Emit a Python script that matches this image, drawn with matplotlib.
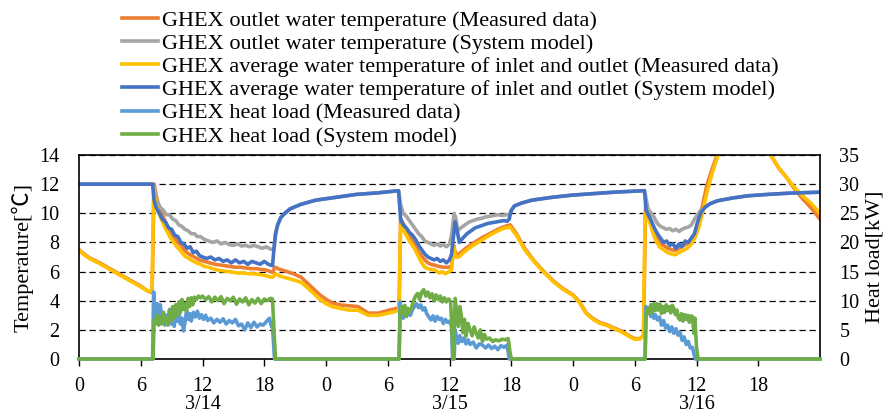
import matplotlib
matplotlib.use('Agg')
import matplotlib.pyplot as plt

# hours from 3/14 0:00
t_out_meas = [0, 0.5, 1, 2, 3, 4, 5, 6, 6.6, 7.1, 7.3, 7.5, 7.8, 8.1, 8.4, 8.7, 9.0, 9.3, 9.6, 9.9,
              10.2, 10.5, 10.8, 11.2, 11.7, 12.2, 12.7, 13.2, 13.7, 14.2, 14.7, 15.2, 15.7, 16.2, 16.7, 17.2, 17.7, 18.2, 18.6, 18.8,
              19.05, 19.5, 20.2, 21.0, 21.6, 22.2, 22.8, 23.4, 24.0, 24.6, 25.5, 26.3, 27.1, 28.1, 29.1, 30.1, 30.9, 31.1,
              31.25, 31.5, 31.8, 32.1, 32.4, 32.7, 33.0, 33.3, 33.6, 33.9, 34.2, 34.6, 35.0, 35.4, 35.9, 36.2, 36.4, 36.6, 36.9, 37.6,
              38.3, 39.1, 39.9, 40.7, 41.4, 41.9, 42.5, 43.3, 44.2, 45.1, 46.1, 47.0, 48.0, 48.6, 49.3, 50.0, 50.6, 51.3, 51.9, 52.6,
              53.2, 53.7, 54.0, 54.5, 54.85,
              55.05, 55.4, 55.7, 56.0, 56.4, 56.8, 57.2, 57.6, 57.9, 58.3, 58.7, 59.1, 59.5, 59.9, 60.3, 60.6, 61.0, 61.5, 62.0, 62.6,
              64.5, 66.5, 67.2, 68.0, 68.7, 69.5, 70.3, 71.1, 72.0]
out_meas = [7.5, 7.2, 6.95, 6.6, 6.2, 5.8, 5.4, 5.0, 4.7, 4.55, 12.0, 11.2, 10.4, 9.9, 9.4, 9.0, 8.6, 8.3, 8.0, 7.8,
            7.5, 7.3, 7.15, 7.0, 6.8, 6.7, 6.6, 6.5, 6.45, 6.4, 6.35, 6.3, 6.3, 6.25, 6.2, 6.2, 6.15, 6.1, 6.0, 5.95,
            6.3, 6.15, 6.0, 5.8, 5.6, 5.2, 4.8, 4.4, 4.1, 3.85, 3.7, 3.65, 3.6, 3.15, 3.15, 3.35, 3.48, 3.5,
            9.6, 9.3, 8.9, 8.5, 8.1, 7.7, 7.35, 7.05, 6.8, 6.6, 6.5, 6.43, 6.35, 6.3, 6.3, 6.35, 7.8, 7.2, 7.2, 7.6,
            7.95, 8.3, 8.6, 8.9, 9.1, 9.2, 8.6, 7.6, 6.75, 6.05, 5.35, 4.85, 4.4, 3.95, 3.15, 2.75, 2.5, 2.35, 2.15, 1.95,
            1.7, 1.5, 1.4, 1.4, 1.6,
            10.4, 9.8, 9.05, 8.5, 8.0, 7.8, 7.6, 7.5, 7.45, 7.6, 7.8, 7.9, 8.2, 8.7, 9.6, 10.6, 11.9, 13.0, 14.0, 15.2,
            17.0, 15.8, 14.0, 13.1, 12.5, 11.7, 11.0, 10.4, 9.6]

t_out_model = [0, 7.15, 7.3, 7.6, 7.9, 8.2, 8.5, 8.8, 9.1, 9.4, 9.7, 10.0, 10.3, 10.6, 10.9, 11.2, 11.5, 11.8, 12.2, 12.6,
               13.0, 13.4, 13.8, 14.2, 14.6, 15.0, 15.4, 15.8, 16.2, 16.6, 17.0, 17.4, 17.8, 18.2, 18.6, 18.85, 18.95, 19.1, 19.3, 19.6,
               20.0, 20.5, 21.5, 23, 25, 27, 29, 31.05,
               31.25, 31.5, 31.8, 32.1, 32.4, 32.7, 33.0, 33.3, 33.6, 33.9, 34.2, 34.5, 34.8, 35.1, 35.4, 35.7, 36.0, 36.2, 36.45, 36.6,
               36.8, 37.1, 37.5, 37.9, 38.3, 38.7, 39.1, 39.5, 39.9, 40.3, 40.7, 41.1, 41.5, 41.8, 42.0, 42.3, 43, 44, 46, 48,
               50, 52, 54.95,
               55.1, 55.3, 55.6, 55.9, 56.2, 56.5, 56.8, 57.1, 57.4, 57.7, 58.0, 58.3, 58.6, 58.9, 59.2, 59.5, 59.8, 60.1, 60.4, 60.8,
               61.3, 62, 63.5, 65, 67, 69, 72]
out_model = [12.0, 12.0, 11.6, 10.8, 10.4, 10.2, 9.9, 9.9, 9.6, 9.5, 9.2, 9.1, 8.9, 8.8, 8.6, 8.6, 8.4, 8.4, 8.2, 8.1,
             8.0, 8.1, 7.9, 8.0, 7.85, 7.8, 7.9, 7.75, 7.8, 7.7, 7.8, 7.7, 7.6, 7.7, 7.55, 7.5, 7.6, 8.6, 9.2, 9.7,
             10.0, 10.3, 10.6, 10.9, 11.1, 11.3, 11.4, 11.55,
             10.6, 10.0, 9.8, 9.5, 9.2, 8.9, 8.6, 8.4, 8.1, 8.0, 7.9, 7.8, 7.9, 7.75, 7.85, 7.7, 7.9, 8.5, 10.0, 9.7,
             8.8, 9.0, 9.2, 9.4, 9.5, 9.6, 9.65, 9.75, 9.8, 9.85, 9.9, 9.85, 9.9, 9.9, 10.2, 10.5, 10.7, 10.9, 11.1, 11.25,
             11.35, 11.45, 11.55,
             11.0, 10.3, 10.0, 9.7, 9.3, 9.1, 9.0, 8.9, 8.95, 8.8, 8.9, 8.75, 8.9, 9.0, 9.05, 9.2, 9.6, 9.9, 10.2, 10.4,
             10.65, 10.85, 11.05, 11.2, 11.3, 11.38, 11.45]

t_avg_meas = [0, 0.5, 1, 2, 3, 4, 5, 6, 6.6, 7.1, 7.25, 7.4, 7.7, 8.0, 8.3, 8.6, 8.9, 9.2, 9.5, 9.8,
              10.1, 10.4, 10.7, 11.0, 11.4, 11.8, 12.2, 12.6, 13.0, 13.5, 14.0, 14.5, 15.0, 15.5, 16.0, 16.5, 17.0, 17.5, 18.0, 18.5,
              18.8, 19.1, 19.5, 20.2, 21.0, 21.6, 22.2, 22.8, 23.4, 24.0, 24.6, 25.5, 26.3, 27.1, 28.1, 29.1, 30.1, 30.9, 31.1,
              31.25, 31.5, 31.8, 32.1, 32.4, 32.7, 33.0, 33.3, 33.6, 33.9, 34.2, 34.6, 35.0, 35.3, 35.6, 35.9, 36.2, 36.4, 36.6, 36.9,
              37.6, 38.3, 39.1, 39.9, 40.7, 41.4, 41.9, 42.5, 43.3, 44.2, 45.1, 46.1, 47.0, 48.0, 48.6, 49.3, 50.0, 50.6, 51.3, 51.9,
              52.6, 53.2, 53.7, 54.0, 54.5, 54.85,
              55.0, 55.4, 55.7, 56.0, 56.4, 56.8, 57.2, 57.6, 57.9, 58.3, 58.7, 59.1, 59.5, 59.9, 60.3, 60.6, 61.0, 61.5, 62.0, 62.6,
              64.5, 66.5, 67.2, 68.0, 68.7, 69.5, 70.3, 71.1, 72.0]
avg_meas = [7.45, 7.15, 6.9, 6.55, 6.15, 5.75, 5.35, 4.95, 4.7, 4.6, 11.7, 10.8, 10.1, 9.6, 9.1, 8.7, 8.3, 8.0, 7.7, 7.5,
            7.2, 7.0, 6.9, 6.75, 6.6, 6.5, 6.35, 6.3, 6.2, 6.1, 6.05, 6.0, 5.95, 5.9, 5.9, 5.85, 5.85, 5.8, 5.75, 5.65,
            5.6, 5.85, 5.7, 5.55, 5.4, 5.25, 4.9, 4.5, 4.1, 3.8, 3.6, 3.45, 3.35, 3.35, 3.0, 3.0, 3.15, 3.3, 3.4,
            9.2, 8.9, 8.5, 8.1, 7.8, 7.45, 7.0, 6.6, 6.3, 6.2, 6.15, 6.1, 5.9, 6.0, 5.85, 5.98, 6.1, 7.7, 7.0, 7.0,
            7.45, 7.8, 8.14, 8.5, 8.8, 9.0, 9.05, 8.5, 7.5, 6.7, 6.0, 5.3, 4.8, 4.36, 3.9, 3.1, 2.7, 2.45, 2.3, 2.1,
            1.9, 1.65, 1.45, 1.35, 1.38, 1.6,
            10.0, 9.5, 8.8, 8.2, 7.7, 7.5, 7.3, 7.2, 7.15, 7.3, 7.45, 7.6, 7.9, 8.4, 9.2, 10.1, 11.4, 12.7, 13.8, 15.0,
            17.0, 15.6, 14.0, 13.1, 12.5, 11.8, 11.2, 10.7, 10.0]

t_avg_model = [0, 7.15, 7.3, 7.5, 7.8, 8.1, 8.4, 8.7, 9.0, 9.3, 9.6, 9.9, 10.2, 10.5, 10.8, 11.1, 11.4, 11.7, 12.0, 12.4,
               12.8, 13.2, 13.6, 14.0, 14.4, 14.8, 15.2, 15.6, 16.0, 16.4, 16.8, 17.2, 17.6, 18.0, 18.4, 18.8, 18.95, 19.1, 19.3, 19.6,
               20.0, 20.5, 21.5, 23, 25, 27, 29, 31.05,
               31.25, 31.5, 31.8, 32.1, 32.4, 32.7, 33.0, 33.3, 33.6, 33.9, 34.2, 34.5, 34.8, 35.1, 35.4, 35.7, 36.0, 36.2, 36.4, 36.55,
               36.75, 36.95, 37.3, 37.7, 38.1, 38.5, 38.9, 39.3, 39.7, 40.1, 40.5, 40.9, 41.3, 41.6, 41.8, 42.0, 42.3, 43, 44, 46,
               48, 50, 52, 54.95,
               55.1, 55.3, 55.6, 55.9, 56.2, 56.5, 56.8, 57.1, 57.4, 57.7, 58.0, 58.3, 58.6, 58.9, 59.2, 59.5, 59.8, 60.1, 60.4, 60.8,
               61.3, 62, 63.5, 65, 67, 69, 72]
avg_model = [12.0, 12.0, 10.9, 10.4, 10.0, 9.6, 9.4, 9.0, 8.9, 8.5, 8.4, 8.0, 7.9, 7.6, 7.7, 7.3, 7.4, 7.1, 7.0, 6.9,
             7.0, 6.8, 6.9, 6.7, 6.8, 6.6, 6.8, 6.6, 6.7, 6.5, 6.7, 6.6, 6.5, 6.7, 6.5, 6.4, 7.6, 8.6, 9.2, 9.7,
             10.0, 10.3, 10.6, 10.9, 11.1, 11.3, 11.4, 11.55,
             9.6, 9.2, 9.0, 8.7, 8.5, 8.2, 7.8, 7.5, 7.2, 7.0, 6.9, 6.8, 6.9, 6.7, 6.8, 6.6, 6.8, 7.2, 8.5, 9.4,
             8.8, 8.0, 8.3, 8.6, 8.8, 9.0, 9.1, 9.2, 9.3, 9.35, 9.4, 9.45, 9.5, 9.45, 9.6, 10.2, 10.5, 10.7, 10.9, 11.1,
             11.25, 11.35, 11.45, 11.55,
             10.2, 9.9, 9.5, 9.0, 8.6, 8.3, 8.0, 8.1, 7.8, 7.9, 7.6, 7.9, 7.7, 8.1, 8.0, 8.3, 8.6, 9.4, 10.0, 10.4,
             10.65, 10.85, 11.05, 11.2, 11.3, 11.38, 11.45]

t_load_meas = [0, 7.15, 7.25, 7.35, 7.5, 7.6, 7.75, 7.9, 8.05, 8.2, 8.35, 8.5, 8.65, 8.8, 8.95, 9.1, 9.25, 9.4, 9.55, 9.7,
               9.85, 10.0, 10.15, 10.3, 10.45, 10.6, 10.75, 10.9, 11.1, 11.3, 11.5, 11.7, 11.9, 12.1, 12.3, 12.5, 12.8, 13.1, 13.4, 13.7,
               14.0, 14.3, 14.6, 14.9, 15.2, 15.5, 15.8, 16.1, 16.4, 16.7, 17.0, 17.3, 17.6, 17.9, 18.2, 18.5, 18.7, 18.8, 19.0,
               31.1, 31.2, 31.35, 31.5, 31.65, 31.8, 32.0, 32.2, 32.4, 32.6, 32.8, 33.0, 33.2, 33.4, 33.6, 33.8, 34.0, 34.2, 34.4, 34.6,
               34.8, 35.0, 35.2, 35.4, 35.6, 35.8, 36.0, 36.2, 36.3, 36.45, 36.55, 36.7, 36.85, 37.0, 37.2, 37.4, 37.6, 37.8, 38.0, 38.3,
               38.6, 38.9, 39.2, 39.5, 39.8, 40.1, 40.4, 40.7, 41.0, 41.3, 41.6, 41.8,
               55.0, 55.1, 55.25, 55.4, 55.55, 55.7, 55.85, 56.0, 56.2, 56.4, 56.6, 56.8, 57.0, 57.2, 57.4, 57.6, 57.8, 58.0, 58.2, 58.4,
               58.6, 58.8, 59.0, 59.2, 59.4, 59.6, 59.8, 59.9, 72]
load_meas = [0, 0, 11.5, 9.0, 6.5, 9.5, 7.0, 9.3, 6.5, 8.0, 5.8, 7.5, 6.2, 8.5, 6.0, 7.2, 5.6, 8.0, 6.5, 8.3,
             6.0, 7.0, 4.8, 6.3, 8.3, 6.8, 7.8, 6.5, 8.0, 7.2, 8.2, 7.0, 7.6, 6.8, 7.5, 6.6, 7.0, 6.2, 6.8, 6.3,
             6.9, 6.0, 6.6, 6.2, 6.8, 5.7, 6.0, 5.0, 6.2, 5.4, 6.3, 5.5, 6.0, 5.8, 6.4, 7.0, 5.6, 5.5, 0,
             0, 9.8, 8.0, 7.0, 8.2, 7.3, 7.8, 7.5, 8.5, 9.0, 9.5, 8.8, 9.3, 8.4, 8.8, 7.7, 7.2, 6.7, 7.4, 6.5,
             7.3, 6.8, 7.0, 6.1, 6.8, 6.3, 6.5, 5.5, 0, 0, 5.0, 3.5, 2.7, 4.0, 3.0, 3.6, 2.6, 3.3, 2.5, 2.9,
             1.9, 2.6, 2.4, 1.9, 2.4, 1.8, 2.2, 1.6, 2.3, 2.0, 2.4, 0,
             0, 9.0, 8.0, 8.8, 7.3, 8.0, 7.0, 7.6, 6.7, 7.2, 5.8, 6.6, 5.3, 5.8, 4.7, 5.5, 4.4, 5.2, 4.1, 4.6,
             3.2, 3.8, 2.5, 3.0, 1.9, 2.0, 0.5, 0, 0]

t_load_model = [0, 7.2, 7.3, 7.45, 7.6, 7.75, 7.9, 8.05, 8.2, 8.35, 8.5, 8.65, 8.8, 8.95, 9.1, 9.25, 9.4, 9.55, 9.7, 9.85,
                10.0, 10.15, 10.3, 10.45, 10.6, 10.75, 10.9, 11.05, 11.2, 11.4, 11.6, 11.8, 12.0, 12.3, 12.6, 12.9, 13.2, 13.5, 13.8, 14.1,
                14.4, 14.7, 15.0, 15.3, 15.6, 15.9, 16.2, 16.5, 16.8, 17.1, 17.4, 17.7, 18.0, 18.3, 18.6, 18.8, 19.0, 19.1,
                31.1, 31.2, 31.35, 31.5, 31.65, 31.8, 31.95, 32.1, 32.3, 32.5, 32.7, 32.9, 33.1, 33.3, 33.5, 33.7, 33.9, 34.1, 34.3, 34.5,
                34.7, 34.9, 35.1, 35.3, 35.5, 35.7, 35.9, 36.1, 36.25, 36.35, 36.45, 36.55, 36.7, 36.85, 37.0, 37.15, 37.3, 37.45, 37.6, 37.8,
                38.0, 38.2, 38.4, 38.6, 38.8, 39.0, 39.2, 39.4, 39.6, 39.9, 40.2, 40.5, 40.8, 41.1, 41.4, 41.7, 41.85, 42.0,
                55.0, 55.1, 55.25, 55.4, 55.55, 55.7, 55.85, 56.0, 56.15, 56.3, 56.45, 56.6, 56.75, 56.9, 57.05, 57.2, 57.35, 57.5, 57.65, 57.8,
                57.95, 58.1, 58.25, 58.4, 58.55, 58.7, 58.85, 59.0, 59.15, 59.3, 59.45, 59.6, 59.75, 59.85, 60.0, 60.15, 72]
load_model = [0, 0, 6.8, 6.0, 7.5, 5.8, 7.2, 6.0, 8.0, 6.3, 7.0, 5.8, 8.3, 6.5, 9.0, 7.0, 9.3, 7.5, 9.8, 8.0,
              10.2, 8.5, 9.5, 8.2, 10.4, 9.0, 10.5, 9.3, 10.6, 10.2, 10.8, 10.5, 10.8, 10.2, 10.7, 9.8, 10.6, 10.0, 10.7, 9.5,
              10.4, 10.0, 10.6, 9.4, 10.3, 9.8, 10.5, 9.3, 10.2, 9.6, 10.4, 9.5, 10.3, 10.0, 10.4, 10.3, 3.0, 0,
              0, 8.0, 9.0, 7.8, 9.2, 7.3, 8.7, 8.0, 8.7, 10.0, 10.8, 11.25, 10.2, 11.5, 11.9, 10.8, 11.5, 10.5, 11.2, 10.0,
              11.0, 10.2, 10.8, 9.8, 10.5, 9.8, 10.3, 9.9, 5.0, 0, 4.0, 10.4, 8.0, 5.6, 9.0, 7.5, 4.5, 6.8, 3.9, 6.1,
              5.0, 4.0, 5.5, 4.4, 3.6, 5.0, 3.0, 4.2, 3.4, 3.6, 3.0, 3.3, 3.1, 3.4, 3.3, 3.5, 1.5, 0,
              0, 7.3, 8.6, 7.8, 9.3, 8.0, 9.5, 8.3, 9.5, 8.4, 9.4, 7.8, 9.0, 8.0, 9.3, 8.3, 9.0, 7.9, 9.2, 8.7,
              7.6, 8.4, 7.0, 6.7, 7.8, 6.5, 7.6, 6.8, 7.5, 6.3, 7.4, 7.3, 4.4, 7.0, 2.0, 0, 0]

hour_ticks = [0, 6, 12, 18, 24, 30, 36, 42, 48, 54, 60, 66]
hour_labels = ['0', '6', '12', '18'] * 3
date_pos = [12, 36, 60]
date_labels = ['3/14', '3/15', '3/16']

labels = ['GHEX outlet water temperature (Measured data)',
          'GHEX outlet water temperature (System model)',
          'GHEX average water temperature of inlet and outlet (Measured data)',
          'GHEX average water temperature of inlet and outlet (System model)',
          'GHEX heat load (Measured data)',
          'GHEX heat load (System model)']
colors = ['#ED7D31', '#A5A5A5', '#FFC000', '#4472C4', '#5B9BD5', '#70AD47']

plt.rcParams['font.family'] = ['Liberation Serif', 'Noto Sans CJK JP']
plt.rcParams['font.size'] = 14.5

fig = plt.figure(figsize=(8.92, 4.19), dpi=100)
ax = fig.add_axes([79 / 892, 60 / 419, 741 / 892, 204 / 419])
ax2 = ax.twinx()

lw = 2.6
h = []
h += ax.plot(t_out_meas, out_meas, color=colors[0], lw=lw)
h += ax.plot(t_out_model, out_model, color=colors[1], lw=lw)
h += ax.plot(t_avg_meas, avg_meas, color=colors[2], lw=lw)
h += ax.plot(t_avg_model, avg_model, color=colors[3], lw=lw)
h += ax2.plot(t_load_meas, load_meas, color=colors[4], lw=lw, clip_on=False)
h += ax2.plot(t_load_model, load_model, color=colors[5], lw=lw, clip_on=False)

ax.set_xlim(0, 72)
ax.set_ylim(0, 14)
ax2.set_ylim(0, 35)
ax.set_yticks(range(0, 15, 2))
ax2.set_yticks(range(0, 36, 5))
ax.set_xticks(hour_ticks)
ax.set_xticklabels(hour_labels)
ax.tick_params(axis='y', length=0, pad=14)
ax2.tick_params(axis='y', length=0, pad=14)
ax.tick_params(axis='x', length=5, width=1, pad=8)
ax.yaxis.grid(True, color='black', linestyle=(0, (5, 3)), lw=0.9)
for s in ax.spines.values():
    s.set_linewidth(1.2)
for s in ax2.spines.values():
    s.set_visible(False)

for pos, lab in zip(date_pos, date_labels):
    ax.annotate(lab, xy=(pos, 0), xycoords=('data', 'axes fraction'),
                xytext=(0, -33), textcoords='offset points', ha='center', va='center')

ax.set_ylabel('Temperature[℃]', fontsize=16, labelpad=4)
ax2.set_ylabel('Heat load[kW]', fontsize=16, labelpad=4)

fig.legend(h, labels, loc='upper left', bbox_to_anchor=(122 / 892, 1 - 10 / 419),
           frameon=False, borderpad=0, borderaxespad=0, handlelength=1.62,
           handletextpad=0.18, labelspacing=0.12, fontsize=16)

plt.savefig('out.png', dpi=100)
